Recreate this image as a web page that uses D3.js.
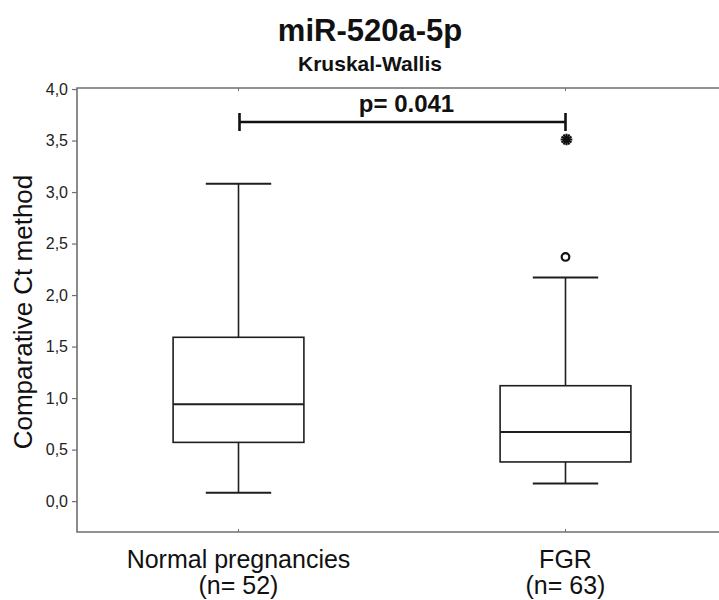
<!DOCTYPE html>
<html>
<head>
<meta charset="utf-8">
<script src="https://cdn.jsdelivr.net/npm/d3@7"></script>
<style>
  html, body { margin: 0; padding: 0; background: #fff; }
  svg { display: block; font-family: "Liberation Sans", Arial, sans-serif; }
</style>
</head>
<body>
<svg id="chart" width="719" height="600"></svg>
<script>
// ---- data ----
const categories = ["Normal pregnancies", "FGR"];
const sampleSizes = ["(n= 52)", "(n= 63)"];
const whiskerLow = [0.08, 0.17];
const q1 = [0.57, 0.38];
const median = [0.94, 0.67];
const q3 = [1.59, 1.12];
const whiskerHigh = [3.08, 2.17];
const outliers = [[], [2.37]];
const extremes = [[], [3.51]];
const yTicks = [0, 0.5, 1, 1.5, 2, 2.5, 3, 3.5, 4];
const yDomain = [-0.3, 4.01];
const title = "miR-520a-5p";
const subtitle = "Kruskal-Wallis";
const yLabel = "Comparative Ct method";
const pText = "p= 0.041";
const bracketValue = 3.68;

// ---- layout ----
const svg = d3.select("#chart");
const plotLeft = 77, plotTop = 88, plotBottom = 532, plotRight = 740;

const x = d3.scaleBand().domain(categories).range([75, 729]).padding(0);
const y = d3.scaleLinear().domain(yDomain).range([plotBottom, plotTop]);
const fmt = v => d3.format(".1f")(v).replace(".", ",");

const frameColor = "#6f6f6f";
const ink = "#1e1e1e";

// frame (open to the right, beyond the picture)
svg.append("path")
  .attr("d", `M${plotRight},${plotTop}H${plotLeft}V${plotBottom}H${plotRight}`)
  .attr("fill", "none").attr("stroke", frameColor).attr("stroke-width", 1.6);

// y axis
const yAxis = svg.append("g")
  .attr("transform", `translate(${plotLeft},0)`)
  .call(d3.axisLeft(y).tickValues(yTicks).tickFormat(fmt).tickSize(5).tickPadding(4));
yAxis.select(".domain").remove();
yAxis.selectAll(".tick line").attr("stroke", frameColor).attr("stroke-width", 1.2);
yAxis.selectAll(".tick text")
  .attr("fill", "#222").style("font-size", "16px")
  .style("font-family", "'Liberation Sans', Arial, sans-serif");

// small inner ticks at category positions (top and bottom)
categories.forEach(c => {
  const cx = x(c) + x.bandwidth() / 2;
  svg.append("line").attr("x1", cx).attr("x2", cx).attr("y1", plotTop).attr("y2", plotTop + 3)
    .attr("stroke", frameColor).attr("stroke-width", 1);
  svg.append("line").attr("x1", cx).attr("x2", cx).attr("y1", plotBottom).attr("y2", plotBottom - 3)
    .attr("stroke", frameColor).attr("stroke-width", 1);
});

// boxes
const boxW = x.bandwidth() * 0.4;
const capW = x.bandwidth() * 0.2;
categories.forEach((c, i) => {
  const cx = x(c) + x.bandwidth() / 2;
  const g = svg.append("g");
  // whiskers
  g.append("line").attr("x1", cx).attr("x2", cx)
    .attr("y1", y(q3[i])).attr("y2", y(whiskerHigh[i]))
    .attr("stroke", ink).attr("stroke-width", 1.6);
  g.append("line").attr("x1", cx).attr("x2", cx)
    .attr("y1", y(q1[i])).attr("y2", y(whiskerLow[i]))
    .attr("stroke", ink).attr("stroke-width", 1.6);
  // caps
  [whiskerHigh[i], whiskerLow[i]].forEach(v => {
    g.append("line").attr("x1", cx - capW / 2).attr("x2", cx + capW / 2)
      .attr("y1", y(v)).attr("y2", y(v))
      .attr("stroke", ink).attr("stroke-width", 2);
  });
  // box
  g.append("rect")
    .attr("x", cx - boxW / 2).attr("width", boxW)
    .attr("y", y(q3[i])).attr("height", y(q1[i]) - y(q3[i]))
    .attr("fill", "#fff").attr("stroke", ink).attr("stroke-width", 1.6);
  // median
  g.append("line").attr("x1", cx - boxW / 2).attr("x2", cx + boxW / 2)
    .attr("y1", y(median[i])).attr("y2", y(median[i]))
    .attr("stroke", ink).attr("stroke-width", 2);
  // outliers
  outliers[i].forEach(v => {
    g.append("circle").attr("cx", cx).attr("cy", y(v)).attr("r", 3.8)
      .attr("fill", "#fff").attr("stroke", "#111").attr("stroke-width", 2.2);
  });
  // extremes
  extremes[i].forEach(v => {
    [0, 90].forEach(rot => {
      g.append("path")
        .attr("transform", `translate(${cx + 1},${y(v)}) rotate(${rot})`)
        .attr("d", d3.symbol(d3.symbolAsterisk, 95)())
        .attr("fill", "none").attr("stroke", "#111").attr("stroke-width", 2.2);
    });
  });
  // category labels
  svg.append("text").attr("x", cx).attr("y", 568)
    .attr("text-anchor", "middle").style("font-size", "25px").attr("fill", "#111")
    .text(c);
  svg.append("text").attr("x", cx).attr("y", 594)
    .attr("text-anchor", "middle").style("font-size", "25px").attr("fill", "#111")
    .text(sampleSizes[i]);
});

// significance bracket
const bx1 = x(categories[0]) + x.bandwidth() / 2 + 1;
const bx2 = x(categories[1]) + x.bandwidth() / 2;
const by = y(bracketValue);
svg.append("path")
  .attr("d", `M${bx1},${by - 9}V${by + 9}M${bx1},${by}H${bx2}M${bx2},${by - 9}V${by + 9}`)
  .attr("fill", "none").attr("stroke", "#111").attr("stroke-width", 2.6);
svg.append("text").attr("x", (bx1 + bx2) / 2 + 4).attr("y", by - 10)
  .attr("text-anchor", "middle").style("font-size", "24px").style("font-weight", "bold")
  .attr("fill", "#111").text(pText);

// titles
svg.append("text").attr("x", 370).attr("y", 41)
  .attr("text-anchor", "middle").style("font-size", "31px").style("font-weight", "bold")
  .attr("fill", "#111").text(title);
svg.append("text").attr("x", 370).attr("y", 71)
  .attr("text-anchor", "middle").style("font-size", "21px").style("font-weight", "bold")
  .attr("fill", "#111").text(subtitle);

// y label
svg.append("text")
  .attr("transform", `translate(32,${(plotTop + plotBottom) / 2 + 2}) rotate(-90)`)
  .attr("text-anchor", "middle").style("font-size", "26px").attr("fill", "#111")
  .text(yLabel);
</script>
</body>
</html>
